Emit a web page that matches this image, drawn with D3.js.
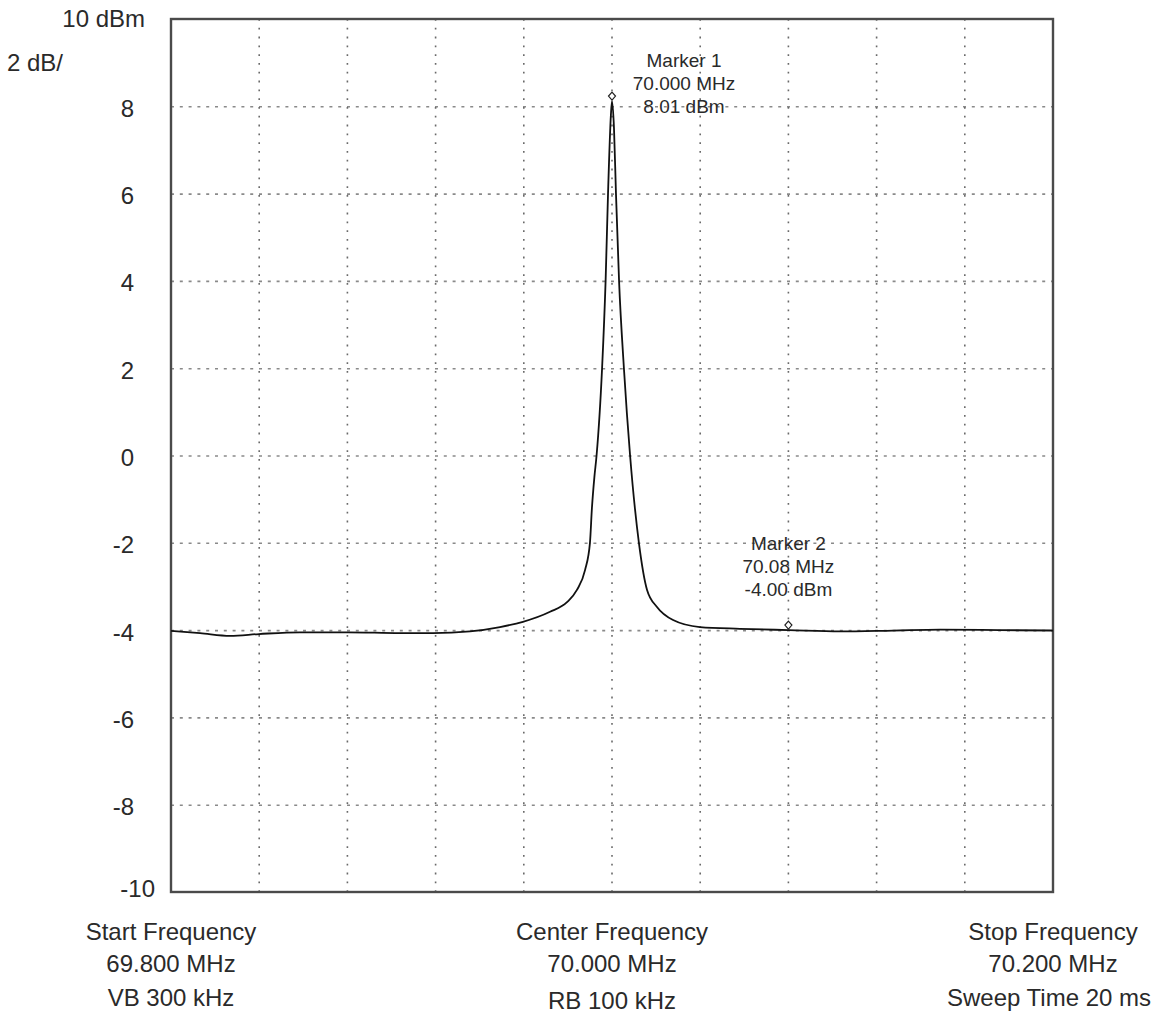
<!DOCTYPE html>
<html>
<head>
<meta charset="utf-8">
<script src="https://cdn.jsdelivr.net/npm/d3@7"></script>
<style>
  html, body { margin: 0; padding: 0; background: #fff; }
  svg { display: block; font-family: Arial, "Liberation Sans", sans-serif; }
</style>
</head>
<body>
<script>
// ---------- data ----------
const freqMHz = [69.800, 69.8132, 69.8268, 69.8399, 69.8585, 69.8803, 69.9039, 69.9188,
  69.9356, 69.9492, 69.9596, 69.9719, 69.9796, 69.9841, 69.9878, 69.9900, 69.9909,
  69.9920, 69.9930, 69.9955, 69.9971, 69.9982, 69.9995, 70.0000, 70.0009, 70.0018,
  70.0032, 70.0054, 70.0082, 70.0122, 70.0159, 70.0204, 70.0277, 70.0399, 70.0580,
  70.0803, 70.1034, 70.1274, 70.1488, 70.1760, 70.2000];
const levelDBm = [-4.02, -4.07, -4.13, -4.09, -4.05, -4.05, -4.07, -4.07,
  -4.03, -3.93, -3.81, -3.58, -3.36, -3.08, -2.62, -2.0, -1.2,
  -0.5, 0.0, 2.0, 4.0, 6.0, 7.8, 8.12, 7.5, 6.0,
  4.0, 2.0, 0.0, -2.0, -3.08, -3.47, -3.77, -3.93, -3.97,
  -4.00, -4.03, -4.01, -3.99, -4.00, -4.01];

const yTickValues = [-10, -8, -6, -4, -2, 0, 2, 4, 6, 8, 10];
const yTickLabels = ["-10", "-8", "-6", "-4", "-2", "0", "2", "4", "6", "8", "10 dBm"];
const scaleLabel = "2 dB/";
const xDivisions = [69.80, 69.84, 69.88, 69.92, 69.96, 70.00, 70.04, 70.08, 70.12, 70.16, 70.20];

const markerNames = ["Marker 1", "Marker 2"];
const markerFreqs = [70.000, 70.080];
const markerFreqLabels = ["70.000 MHz", "70.08 MHz"];
const markerLevelLabels = ["8.01 dBm", "-4.00 dBm"];

const footerLeft = ["Start Frequency", "69.800 MHz", "VB 300 kHz"];
const footerCenter = ["Center Frequency", "70.000 MHz", "RB 100 kHz"];
const footerRight = ["Stop Frequency", "70.200 MHz", "Sweep Time 20 ms"];

// ---------- layout ----------
const W = 1159, H = 1013;
const L = 171, R = 1053, T = 19, B = 892;

const svg = d3.select("body").append("svg").attr("width", W).attr("height", H);
svg.append("rect").attr("width", W).attr("height", H).attr("fill", "#fff");

const x = d3.scaleLinear().domain([69.8, 70.2]).range([L, R]);
const y = d3.scaleLinear().domain([-10, 10]).range([B, T]);

// grid
const g = svg.append("g");
g.selectAll("line.h").data(yTickValues.filter(v => v > -10 && v < 10)).join("line")
  .attr("x1", L).attr("x2", R)
  .attr("y1", d => y(d) + 0.5).attr("y2", d => y(d) + 0.5)
  .attr("stroke", "#8a8a8a").attr("stroke-width", 1.6)
  .attr("stroke-dasharray", "3,5.8");
g.selectAll("line.v").data(xDivisions.slice(1, -1)).join("line")
  .attr("x1", d => x(d)).attr("x2", d => x(d))
  .attr("y1", T).attr("y2", B)
  .attr("stroke", "#6a6a6a").attr("stroke-width", 1.6)
  .attr("stroke-dasharray", "1.8,7");

// frame
svg.append("rect").attr("x", L).attr("y", T).attr("width", R - L).attr("height", B - T)
  .attr("fill", "none").attr("stroke", "#4a4a4a").attr("stroke-width", 2.4);

// trace
const pts = freqMHz.map((f, i) => [f, levelDBm[i]]);
const line = d3.line().x(d => x(d[0])).y(d => y(d[1])).curve(d3.curveMonotoneX);
svg.append("path").attr("d", line(pts)).attr("fill", "none")
  .attr("stroke", "#111").attr("stroke-width", 1.8).attr("stroke-linejoin", "round");

// y tick labels
const yl = svg.append("g").attr("font-size", 24).attr("fill", "#2a2a2a");
yTickValues.forEach((v, i) => {
  let xr = 134, dy = 0;
  if (v === 10) { xr = 145; dy = -1; }
  if (v === -10) { xr = 155; dy = -4; }
  if (v !== 10 && v !== -10) dy = 2;
  yl.append("text").attr("x", xr).attr("y", y(v) + dy)
    .attr("text-anchor", "end").attr("dominant-baseline", "central")
    .text(yTickLabels[i]);
});
yl.append("text").attr("x", 7).attr("y", 62).attr("dominant-baseline", "central")
  .text(scaleLabel);

// markers
const interp = f => {
  const i = d3.bisectLeft(freqMHz, f);
  if (freqMHz[i] === f) return levelDBm[i];
  const t = (f - freqMHz[i - 1]) / (freqMHz[i] - freqMHz[i - 1]);
  return levelDBm[i - 1] + t * (levelDBm[i] - levelDBm[i - 1]);
};
const labelOffsets = [[72, 6], [0, -40]];
markerFreqs.forEach((f, i) => {
  const mx = x(f), my = y(interp(f)) - 1;
  svg.append("path")
    .attr("d", `M${mx},${my} L${mx + 3.5},${my - 4} L${mx},${my - 8} L${mx - 3.5},${my - 4} Z`)
    .attr("fill", "#fff").attr("stroke", "#222").attr("stroke-width", 1.2);
  const tx = mx + labelOffsets[i][0];
  const ty = my + labelOffsets[i][1];
  const lines = [markerNames[i], markerFreqLabels[i], markerLevelLabels[i]];
  lines.forEach((s, k) => {
    svg.append("text").attr("x", tx).attr("y", ty - (2 - k) * 23)
      .attr("text-anchor", "middle").attr("dominant-baseline", "central")
      .attr("font-size", 19).attr("fill", "#2a2a2a").text(s);
  });
});

// footer
const footerRowsY = [931, 963, 997];
[[footerLeft, L], [footerCenter, x(70.0)], [footerRight, R]].forEach(([arr, cx], c) => {
  arr.forEach((s, k) => {
    let yy = footerRowsY[k];
    let xx = cx;
    if (c === 1 && k === 2) yy += 3;
    if (c === 2 && k === 2) xx -= 4;
    svg.append("text").attr("x", xx).attr("y", yy)
      .attr("text-anchor", "middle").attr("dominant-baseline", "central")
      .attr("font-size", 24).attr("fill", "#2a2a2a").text(s);
  });
});
</script>
</body>
</html>
